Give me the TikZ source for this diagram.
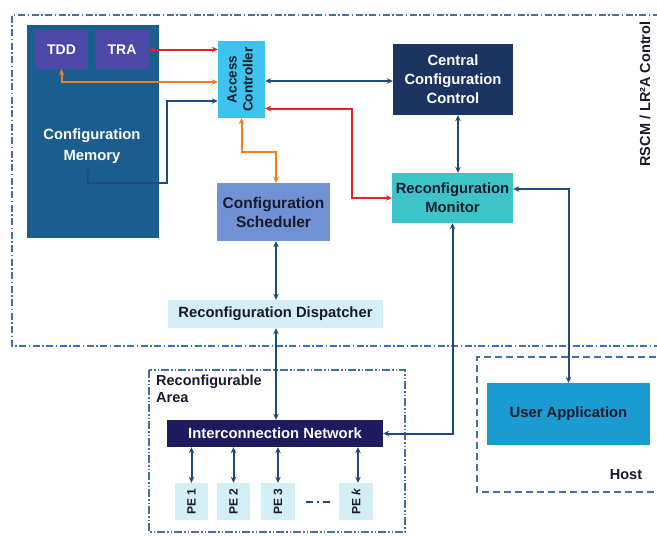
\documentclass[tikz,border=0pt]{standalone}
\usepackage{fontspec}
\setmainfont{Liberation Sans}
\usepackage{graphicx}
\usetikzlibrary{arrows.meta}
\definecolor{memc}{HTML}{1A5E8E}
\definecolor{tdc}{HTML}{4B48A8}
\definecolor{acc}{HTML}{3EC3EE}
\definecolor{cccc}{HTML}{1B3461}
\definecolor{rmc}{HTML}{3CC4C8}
\definecolor{csc}{HTML}{7091D3}
\definecolor{rdc}{HTML}{D3EEF5}
\definecolor{inc}{HTML}{1E1C5E}
\definecolor{uac}{HTML}{1A9CD2}
\definecolor{navyl}{HTML}{1F4A7A}
\definecolor{redl}{HTML}{E8202A}
\definecolor{orl}{HTML}{F47B20}
\definecolor{boxl}{HTML}{4670A0}
\definecolor{txt}{HTML}{1A1A2A}
\tikzset{
  blk/.style={rectangle, inner sep=0pt, align=center, font=\fontsize{14.8}{19}\selectfont\bfseries},
  wtxt/.style={text=white},
  dtxt/.style={text=txt},
  pebox/.style={blk, fill=rdc, minimum width=33pt, minimum height=37pt, text=txt, font=\fontsize{12}{14}\selectfont\bfseries},
  conn/.style={line width=2pt, {Stealth[length=6pt,width=5.5pt]}-{Stealth[length=6pt,width=5.5pt]}},
  navyc/.style={conn, draw=navyl},
  redc/.style={conn, draw=redl},
  orc/.style={conn, draw=orl},
  dashdot/.style={draw=boxl, line width=1.6pt, dash pattern=on 7pt off 2.5pt on 1.5pt off 2.5pt},
  dashdotdot/.style={draw=boxl, line width=1.6pt, dash pattern=on 8pt off 2pt on 1.5pt off 2pt on 1.5pt off 2pt},
  dashedbox/.style={draw=boxl, line width=1.6pt, dash pattern=on 7pt off 4pt},
  lbl/.style={text=txt, font=\fontsize{14.5}{17}\selectfont\bfseries, inner sep=0pt}
}
\begin{document}
\begin{tikzpicture}[x=1pt,y=-1pt]
\clip (0,0) rectangle (657,536);
\fill[white] (0,0) rectangle (657,536);
% frames
\draw[dashdot] (700,15) -- (12,15) -- (12,346) -- (700,346);
\draw[dashdotdot] (149,370) rectangle (405,532);
\draw[dashedbox] (700,357) -- (477,357) -- (477,492) -- (700,492);
\node[lbl, rotate=90] (rscm) at (645,94) {RSCM / LR²A Control};
\node[lbl, align=left, anchor=north west] (ralbl) at (156,375) {Reconfigurable\\Area};
\node[lbl] (host) at (626,475) {Host};
% blocks
\node[blk, fill=memc, minimum width=132pt, minimum height=213pt] (mem) at (93,131.5) {};
\node[blk, wtxt, font=\fontsize{14.8}{21}\selectfont\bfseries] (memtext) at (92,146) {Configuration\\Memory};
\coordinate (memin) at (88,167);
\node[blk, wtxt, fill=tdc, minimum width=53pt, minimum height=39pt, font=\fontsize{14}{16}\selectfont\bfseries] (tdd) at (61.5,49.5) {TDD};
\node[blk, wtxt, fill=tdc, minimum width=54pt, minimum height=39pt, font=\fontsize{14}{16}\selectfont\bfseries] (tra) at (122,49.5) {TRA};
\node[blk, dtxt, fill=acc, minimum width=47pt, minimum height=77pt] (ac) at (241.5,79.5)
  {\rotatebox{90}{\fontsize{13.5}{16}\selectfont\bfseries\begin{tabular}{@{}c@{}}Access\\Controller\end{tabular}}};
\node[blk, wtxt, fill=cccc, minimum width=120pt, minimum height=71pt] (ccc) at (453,79.5) {Central\\Configuration\\Control};
\node[blk, dtxt, fill=rmc, minimum width=121pt, minimum height=50pt] (rm) at (452.5,198) {Reconfiguration\\Monitor};
\node[blk, dtxt, fill=csc, minimum width=113pt, minimum height=58pt, font=\fontsize{15.5}{19}\selectfont\bfseries] (cs) at (273.5,212) {Configuration\\Scheduler};
\node[blk, dtxt, fill=rdc, minimum width=215pt, minimum height=28pt] (rd) at (275.5,314) {Reconfiguration Dispatcher};
\node[blk, wtxt, fill=inc, minimum width=216pt, minimum height=27pt] (in) at (275,433.5) {Interconnection Network};
\node[pebox] (pe1) at (191.5,501.5) {\rotatebox{90}{PE 1}};
\node[pebox] (pe2) at (233.5,501.5) {\rotatebox{90}{PE 2}};
\node[pebox, minimum width=34pt] (pe3) at (278,501.5) {\rotatebox{90}{PE 3}};
\node[pebox, minimum width=34pt] (pek) at (356,501.5) {\rotatebox{90}{PE \textit{k}}};
\node[blk, dtxt, fill=uac, minimum width=163pt, minimum height=62pt] (ua) at (568.5,414) {User Application};
% dots between PEs
\draw[navyl, line width=2pt, dash pattern=on 7pt off 4pt on 2pt off 4pt] (306,502) -- (333,502);
% connectors
\draw[redc] (tra.east) -- (ac.west |- tra.east);
\draw[orc] (tdd.south) |- ([yshift=-2.5pt]ac.west);
\draw[navyc] (memin) |- (167,183) |- ([yshift=-21.5pt]ac.west);
\draw[navyc] ([yshift=-1.5pt]ac.east) -- ([yshift=-1.5pt]ccc.west);
\draw[redc] ([yshift=-29pt]ac.east) -| ([xshift=-40pt]rm.west) -- (rm.west);
\draw[orc] (ac.south) |- ([xshift=2.5pt,yshift=31pt]cs.north) -- ([xshift=2.5pt]cs.north);
\draw[navyc] ([xshift=5pt]ccc.south) -- ([xshift=5pt]ccc.south |- rm.north);
\draw[navyc] ([yshift=9pt]rm.east) -| (ua.north);
\draw[navyc] (rm.south) |- (in.east);
\draw[navyc] ([xshift=2.5pt]cs.south) -- ([xshift=2.5pt]cs.south |- rd.north);
\draw[navyc] ([xshift=0.5pt]rd.south) -- ([xshift=0.5pt]rd.south |- in.north);
\draw[navyc] (pe1.north |- in.south) -- (pe1.north);
\draw[navyc] (pe2.north |- in.south) -- (pe2.north);
\draw[navyc] (pe3.north |- in.south) -- (pe3.north);
\draw[navyc] ([xshift=2pt]pek.north |- in.south) -- ([xshift=2pt]pek.north);
\end{tikzpicture}
\end{document}
